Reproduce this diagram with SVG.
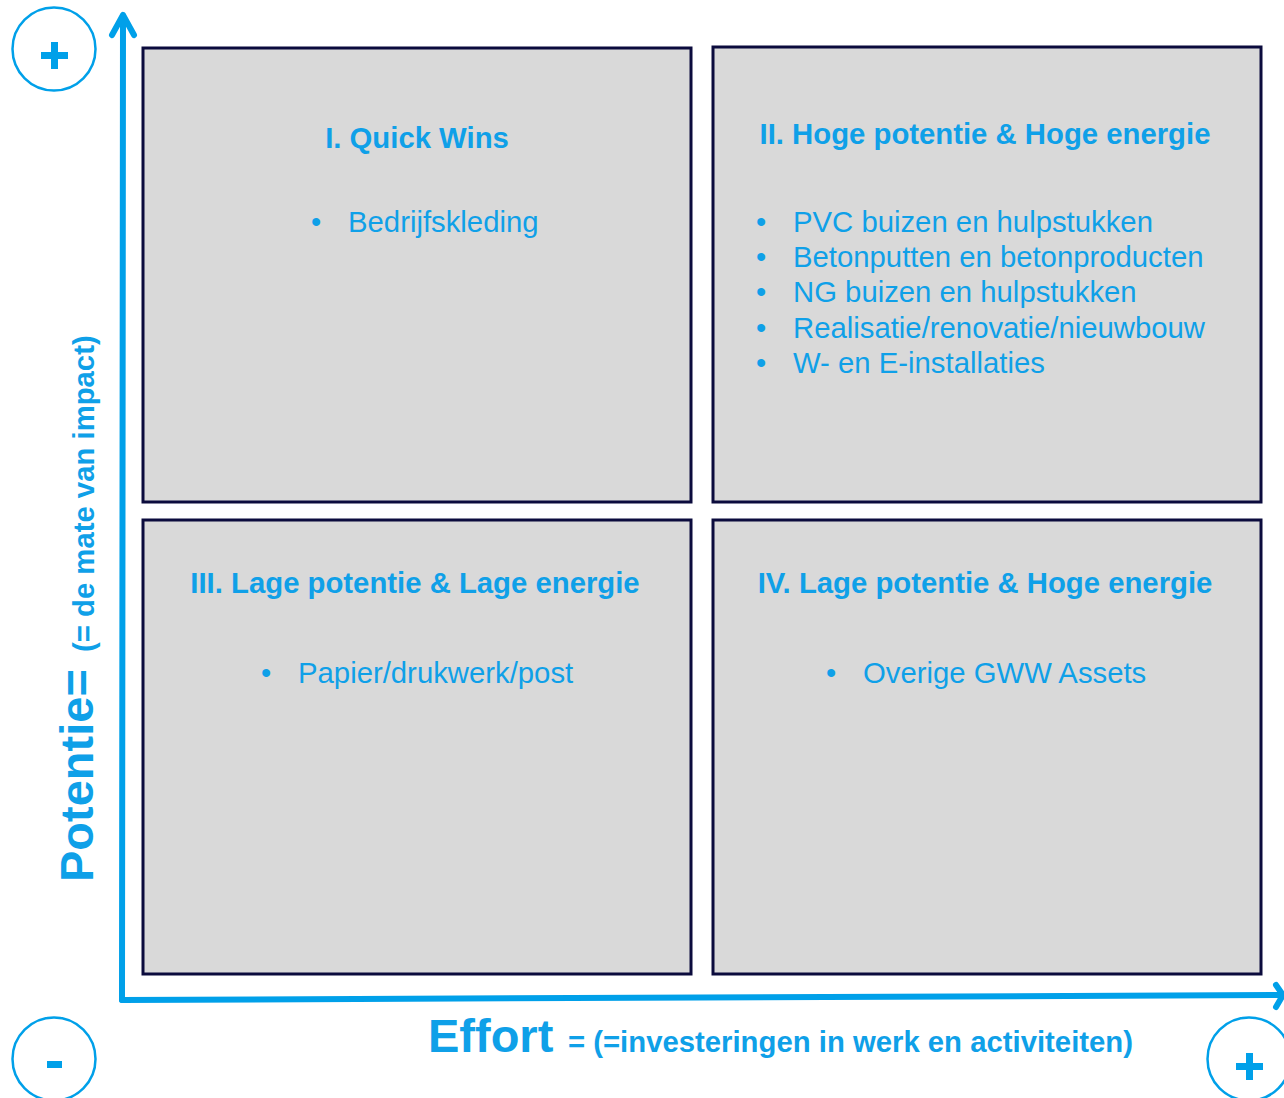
<svg xmlns="http://www.w3.org/2000/svg" width="1284" height="1098" viewBox="0 0 1284 1098">
<style>
.box{fill:#d9d9d9;stroke:#0b0b3d;stroke-width:3}
.t{font-family:"Liberation Sans",Arial,sans-serif;fill:#0fa0e8}
.title{font-size:29.3px;font-weight:bold;text-anchor:middle}
.item{font-size:29.3px}
.axis{stroke:#00a0e9;stroke-width:6;fill:none;stroke-linecap:round;stroke-linejoin:round}
.circ{fill:none;stroke:#00a0e9;stroke-width:2.5}
.sign{fill:#00a0e9}
</style>
<rect width="1284" height="1098" fill="#ffffff"/>
<g id="connectors">
<path class="axis" d="M122,1000 L123,16"/>
<path class="axis" d="M112,35 L123,15 L134,35"/>
<path class="axis" d="M122,1000 L1281,995"/>
<path class="axis" d="M1276,985 L1283,995 L1276,1007"/>
</g>
<g id="q1">
<rect class="box" x="143" y="48" width="548" height="454"/>
<text class="t title" x="417" y="148">I. Quick Wins</text>
<text class="t item" x="311" y="232">•</text>
<text class="t item" x="348" y="232">Bedrijfskleding</text>
</g>
<g id="q2">
<rect class="box" x="713" y="47" width="548" height="455"/>
<text class="t title" x="985" y="144">II. Hoge potentie &amp; Hoge energie</text>
<text class="t item" x="756" y="232">•</text><text class="t item" x="793" y="232">PVC buizen en hulpstukken</text>
<text class="t item" x="756" y="267">•</text><text class="t item" x="793" y="267">Betonputten en betonproducten</text>
<text class="t item" x="756" y="302">•</text><text class="t item" x="793" y="302">NG buizen en hulpstukken</text>
<text class="t item" x="756" y="338">•</text><text class="t item" x="793" y="338">Realisatie/renovatie/nieuwbouw</text>
<text class="t item" x="756" y="373">•</text><text class="t item" x="793" y="373">W- en E-installaties</text>
</g>
<g id="q3">
<rect class="box" x="143" y="520" width="548" height="454"/>
<text class="t title" x="415" y="593">III. Lage potentie &amp; Lage energie</text>
<text class="t item" x="261" y="683">•</text>
<text class="t item" x="298" y="683">Papier/drukwerk/post</text>
</g>
<g id="q4">
<rect class="box" x="713" y="520" width="548" height="454"/>
<text class="t title" x="985" y="593">IV. Lage potentie &amp; Hoge energie</text>
<text class="t item" x="826" y="683">•</text>
<text class="t item" x="863" y="683">Overige GWW Assets</text>
</g>
<g id="yaxis-label">
<text class="t" transform="translate(93,882) rotate(-90)" font-size="47" font-weight="bold">Potentie=</text>
<text class="t" transform="translate(94,652) rotate(-90)" font-size="29.3" font-weight="bold">(= de mate van impact)</text>
</g>
<g id="xaxis-label">
<text class="t" x="428" y="1052" font-size="47" font-weight="bold">Effort</text>
<text class="t" x="568" y="1052" font-size="29.3" font-weight="bold">= (=investeringen in werk en activiteiten)</text>
</g>
<g id="plus-top">
<circle class="circ" cx="54" cy="49" r="41.5"/>
<rect class="sign" x="41" y="52" width="27" height="7"/>
<rect class="sign" x="51" y="42" width="7" height="27"/>
</g>
<g id="minus-bottom">
<circle class="circ" cx="54" cy="1059" r="41.5"/>
<rect class="sign" x="47" y="1061" width="15" height="7"/>
</g>
<g id="plus-right">
<circle class="circ" cx="1249" cy="1059" r="41.5"/>
<rect class="sign" x="1236" y="1063" width="27" height="7"/>
<rect class="sign" x="1246" y="1053" width="7" height="27"/>
</g>
</svg>
